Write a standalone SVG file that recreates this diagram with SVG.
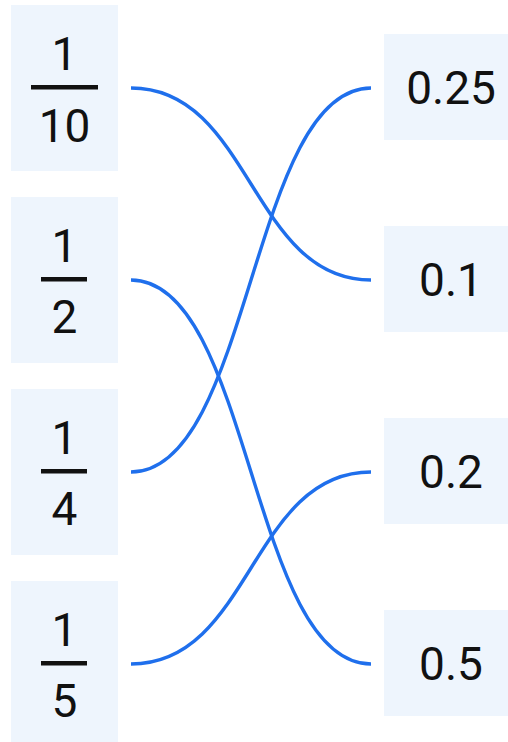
<svg xmlns="http://www.w3.org/2000/svg" width="508" height="742" viewBox="0 0 508 742">
<style>
.box{fill:#eef5fd}
.t{font-family:Roboto,"Liberation Sans",sans-serif;font-size:46px;fill:#111;text-anchor:middle}
.bar{fill:#111}
.c{fill:none;stroke:#1f6fec;stroke-width:3.4}
</style>
<rect width="508" height="742" fill="#fff"/>
<g id="connectors">
<path class="c" d="M131,88 C251,88 251,280 371,280"/>
<path class="c" d="M131,280 C251,280 251,664 371,664"/>
<path class="c" d="M131,472 C251,472 251,88 371,88"/>
<path class="c" d="M131,664 C251,664 251,472 371,472"/>
</g>
<g id="left-1-10">
<rect class="box" x="11" y="5" width="107" height="166"/>
<text class="t" x="64.5" y="70">1</text>
<rect class="bar" x="31" y="85" width="67" height="4.5"/>
<text class="t" x="64.5" y="142">10</text>
</g>
<g id="left-1-2">
<rect class="box" x="11" y="197" width="107" height="166"/>
<text class="t" x="64.5" y="262">1</text>
<rect class="bar" x="41" y="277" width="46" height="4.5"/>
<text class="t" x="64.5" y="333">2</text>
</g>
<g id="left-1-4">
<rect class="box" x="11" y="389" width="107" height="166"/>
<text class="t" x="64.5" y="454">1</text>
<rect class="bar" x="41" y="469" width="46" height="4.5"/>
<text class="t" x="64.5" y="525">4</text>
</g>
<g id="left-1-5">
<rect class="box" x="11" y="581" width="107" height="166"/>
<text class="t" x="64.5" y="646">1</text>
<rect class="bar" x="41" y="661" width="46" height="4.5"/>
<text class="t" x="64.5" y="717">5</text>
</g>
<g id="right-0-25">
<rect class="box" x="384" y="34" width="136" height="106"/>
<text class="t" x="451" y="104">0.25</text>
</g>
<g id="right-0-1">
<rect class="box" x="384" y="226" width="136" height="106"/>
<text class="t" x="451" y="296">0.1</text>
</g>
<g id="right-0-2">
<rect class="box" x="384" y="418" width="136" height="106"/>
<text class="t" x="451" y="488">0.2</text>
</g>
<g id="right-0-5">
<rect class="box" x="384" y="610" width="136" height="106"/>
<text class="t" x="451" y="680">0.5</text>
</g>
</svg>
